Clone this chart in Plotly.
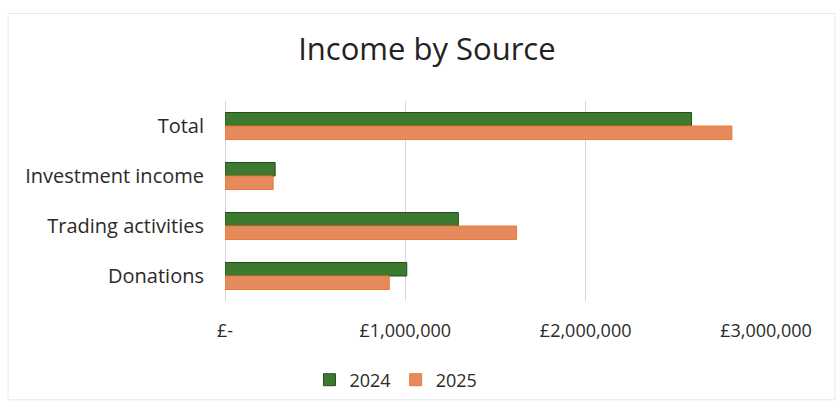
import plotly.graph_objects as go

categories = ["Total", "Investment income", "Trading activities", "Donations"]
income_2024 = [2587000, 278000, 1294000, 1008000]
income_2025 = [2811000, 267000, 1617000, 911000]
tick_vals = [0, 1000000, 2000000, 3000000]
tick_text = ["£-", "£1,000,000", "£2,000,000", "£3,000,000"]

FONT = "Open Sans"

fig = go.Figure()
fig.add_trace(go.Bar(
    y=categories, x=income_2024, name="2024", orientation="h",
    marker=dict(color="#3d7a30", line=dict(color="#244f1b", width=1)),
))
fig.add_trace(go.Bar(
    y=categories, x=income_2025, name="2025", orientation="h",
    marker=dict(color="#e48a5c", line=dict(color="#ee7a30", width=1)),
))

fig.update_layout(
    width=837, height=410,
    margin=dict(l=225, r=71, t=101, b=106),
    paper_bgcolor="white", plot_bgcolor="white",
    barmode="group", bargap=0.46, bargroupgap=0,
    title=dict(text="Income by Source", x=0.51, xanchor="center",
               y=0.879, yanchor="middle",
               font=dict(family=FONT, size=31, color="#222222")),
    font=dict(family=FONT, color="#333333"),
    xaxis=dict(range=[0, 3000000], tickvals=tick_vals, ticktext=tick_text,
               showgrid=True, gridcolor="#d6d6de", gridwidth=1,
               zeroline=True, zerolinecolor="#d6d6de", zerolinewidth=1,
               showline=False,
               tickfont=dict(family=FONT, size=18, color="#2a2a2a"),
               ticklabelstandoff=17),
    yaxis=dict(categoryorder="array", categoryarray=categories,
               autorange="reversed", showgrid=False, zeroline=False,
               showline=False,
               tickfont=dict(family=FONT, size=20, color="#2a2a2a"),
               ticklabelstandoff=20),
    legend=dict(orientation="h", x=0.316, xanchor="center",
                y=-0.395, yanchor="middle",
                font=dict(family=FONT, size=18, color="#2a2a2a"),
                itemwidth=30, traceorder="normal"),
    shapes=[dict(type="rect", xref="paper", yref="paper",
                 x0=-217/541, x1=(835-225)/541, y0=(304.5-405)/203.5, y1=(304.5-12)/203.5,
                 line=dict(color="#e8e8ec", width=1))],
)

fig.write_html("out.html")
